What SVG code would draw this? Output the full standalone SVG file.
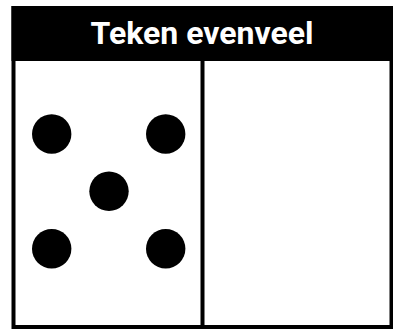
<svg xmlns="http://www.w3.org/2000/svg" width="393" height="329" viewBox="0 0 393 329">
<style>
.frame{fill:#fff;stroke:#000;stroke-width:4}
.dot{fill:#000}
.title{font-family:Roboto,"Liberation Sans",sans-serif;font-weight:bold;font-size:32px;fill:#fff}
</style>
<rect width="393" height="329" fill="#fff"/>
<g id="frame">
<rect class="frame" x="13.5" y="8" width="378" height="319"/>
<rect x="11.5" y="6" width="381.5" height="55" fill="#000"/>
<line x1="202.5" y1="61" x2="202.5" y2="327" stroke="#000" stroke-width="4"/>
</g>
<g id="title"><text class="title" x="202" y="43.5" text-anchor="middle">Teken evenveel</text></g>
<g id="dots">
<circle class="dot" cx="51.7" cy="134" r="19.7"/>
<circle class="dot" cx="165.7" cy="134" r="19.7"/>
<circle class="dot" cx="109" cy="191.3" r="19.7"/>
<circle class="dot" cx="51.7" cy="248.7" r="19.7"/>
<circle class="dot" cx="165.7" cy="248.7" r="19.7"/>
</g>
</svg>
